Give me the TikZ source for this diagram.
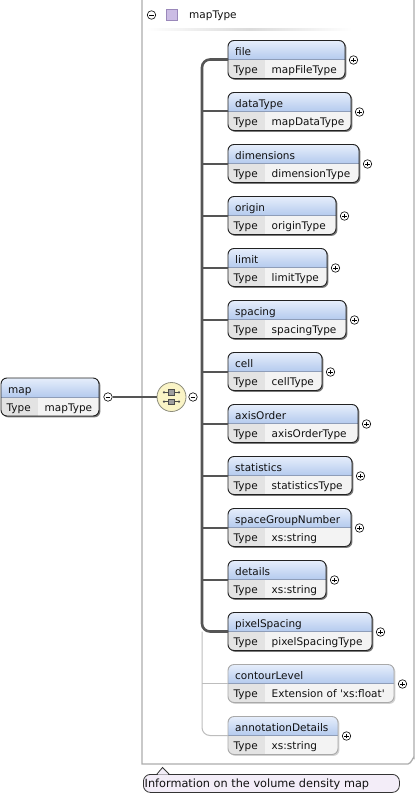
\documentclass[tikz,border=0pt]{standalone}
\usepackage{fontspec}
\setmainfont{DejaVu Sans}
\definecolor{hdtop}{HTML}{E6EEFB}
\definecolor{hdbot}{HTML}{B4CAEE}
\definecolor{hdline}{HTML}{8E9DB8}
\definecolor{typecell}{HTML}{E3E3E3}
\definecolor{valcell}{HTML}{F3F3F3}
\definecolor{busc}{HTML}{555555}
\definecolor{optline}{HTML}{BDBDBD}
\definecolor{framec}{HTML}{ADADAD}
\definecolor{seqfill}{HTML}{FAF4C6}
\definecolor{seqborder}{HTML}{8C8C7C}
\definecolor{callfill}{HTML}{F3EDF8}
\definecolor{purpfill}{HTML}{CBBCE4}
\definecolor{purpborder}{HTML}{9A88BA}
\definecolor{reqborder}{HTML}{222222}
\definecolor{reqshadow}{HTML}{7A7A7A}
\definecolor{optborder}{HTML}{A9A9A9}
\definecolor{optshadow}{HTML}{D2D2D2}
\definecolor{txt}{HTML}{111111}
\tikzset{
  lbl/.style={font=\fontsize{10.5}{12}\selectfont, text=txt, inner sep=0pt, anchor=base west},
  elemframe/.style={rectangle, rounded corners=6, line width=0.9pt, minimum height=38pt, inner sep=0pt, outer sep=0pt},
  pluscirc/.style={circle, draw=black, line width=0.6pt, fill=white, minimum size=8.5pt, inner sep=0pt,
    path picture={\draw[line width=0.7pt] ([xshift=-2.3pt]path picture bounding box.center) -- ([xshift=2.3pt]path picture bounding box.center);
                  \draw[line width=0.7pt] ([yshift=-2.3pt]path picture bounding box.center) -- ([yshift=2.3pt]path picture bounding box.center);}},
  minuscirc/.style={circle, draw=black, line width=0.6pt, fill=white, minimum size=8.5pt, inner sep=0pt,
    path picture={\draw[line width=0.7pt] ([xshift=-2.3pt]path picture bounding box.center) -- ([xshift=2.3pt]path picture bounding box.center);}},
  busline/.style={draw=busc, line width=2.6pt, rounded corners=8},
  branch/.style={draw=busc, line width=2pt},
  optbranch/.style={draw=optline, line width=1pt, rounded corners=8},
  callbox/.style={rectangle, rounded corners=7, draw=black!80, line width=0.8pt, fill=callfill, inner sep=0pt},
}
% #1 id, #2 xleft, #3 ytop, #4 xright, #5 divider x, #6 name, #7 type, #8 kind (req/opt)
\newcommand\elembox[8]{%
  \pgfmathsetmacro\yt{#3}%
  \pgfmathsetmacro\yd{#3+19}%
  \pgfmathsetmacro\yb{#3+38}%
  \fill[#8shadow, rounded corners=6] ({#2+1.4},{\yt+1.4}) rectangle ({#4+1.4},{\yb+1.4});
  \begin{scope}
    \clip[rounded corners=6] (#2,\yt) rectangle (#4,\yb);
    \fill[top color=hdtop, bottom color=hdbot] (#2,\yt) rectangle (#4,\yd);
    \fill[typecell] (#2,\yd) rectangle (#5,\yb);
    \fill[valcell] (#5,\yd) rectangle (#4,\yb);
    \draw[hdline, line width=0.6pt] (#2,\yd) -- (#4,\yd);
  \end{scope}
  \node[elemframe, draw=#8border, minimum width={#4-#2}, anchor=north west] (#1) at (#2,\yt) {};
  \node[lbl] (#1-name) at ({#2+7},{\yt+15}) {#6};
  \node[lbl] (#1-tl) at ({#2+5.5},{\yt+33}) {Type};
  \node[lbl] (#1-tv) at ({#5+6.5},{\yt+33}) {#7};
}
\newcommand\childbox[6]{% #1 id, #2 ytop, #3 xright, #4 name, #5 type, #6 kind
  \elembox{#1}{228}{#2}{#3}{265}{#4}{#5}{#6}%
  \node[pluscirc] (#1-p) at ({#3+8.5},{#2+19.5}) {};
}
\begin{document}
\begin{tikzpicture}[x=1pt,y=-1pt]
\useasboundingbox (0,0) rectangle (418,797);
\fill[white] (0,0) rectangle (418,797);

% container frame of mapType
\draw[framec, line width=1.3pt] (142,-5) -- (142,764) -- (408,764) to[out=0,in=90] (414,758) -- (414,-5);
\node[minuscirc] (tm) at (151.5,15) {};
\node[rectangle, draw=purpborder, fill=purpfill, minimum size=11pt, inner sep=0pt, line width=0.6pt] (ts) at (171.5,15) {};
\node[lbl] (tt) at (189,19) {mapType};
\fill[left color=white, right color=white, middle color=black!14] (146,28.6) rectangle (352,30.4);

% map element
\elembox{map}{1}{378}{99}{38}{map}{mapType}{req}
\node[minuscirc] (mapm) at (108,397) {};

% sequence compositor
\node[circle, draw=seqborder, fill=seqfill, line width=0.8pt, minimum size=29pt, inner sep=0pt] (seq) at (171.5,397) {};
\foreach \dy in {-4.6,4.6}{
  \draw[black!70, line width=0.7pt] (164,397+\dy) -- (179,397+\dy);
  \fill[black!70] (164,397+\dy) circle (1.2);
  \fill[black!70] (179,397+\dy) circle (1.2);
  \filldraw[fill=black!38, draw=black!70, line width=0.6pt] (168.5,397+\dy-2.8) rectangle (174.5,397+\dy+2.8);
}
\node[minuscirc] (seqm) at (193,397) {};
\draw[busc, line width=1.6pt] (mapm.east) -- (seq.west);

% children
\childbox{file}{40.5}{345}{file}{mapFileType}{req}
\childbox{dataType}{92.5}{351}{dataType}{mapDataType}{req}
\childbox{dimensions}{144.5}{359}{dimensions}{dimensionType}{req}
\childbox{origin}{196.5}{336}{origin}{originType}{req}
\childbox{limit}{248.5}{327}{limit}{limitType}{req}
\childbox{spacing}{300.5}{346}{spacing}{spacingType}{req}
\childbox{cell}{352.5}{322}{cell}{cellType}{req}
\childbox{axisOrder}{404.5}{358}{axisOrder}{axisOrderType}{req}
\childbox{statistics}{456.5}{352}{statistics}{statisticsType}{req}
\childbox{spaceGroupNumber}{508.5}{351}{spaceGroupNumber}{xs:string}{req}
\childbox{details}{560.5}{326}{details}{xs:string}{req}
\childbox{pixelSpacing}{612.5}{372}{pixelSpacing}{pixelSpacingType}{req}
\childbox{contourLevel}{664.5}{394}{contourLevel}{Extension of \textquotesingle xs:float\textquotesingle}{opt}
\childbox{annotationDetails}{716.5}{338}{annotationDetails}{xs:string}{opt}

% bus
\coordinate (busx) at (202,397);
\draw[optbranch] (busx |- pixelSpacing.west) |- (annotationDetails.west);
\draw[optline, line width=1pt] (busx |- contourLevel.west) -- (contourLevel.west);
\draw[busline] (file.west) -| (busx) |- (pixelSpacing.west);
\foreach \n in {dataType,dimensions,origin,limit,spacing,cell,axisOrder,statistics,spaceGroupNumber,details}{
  \draw[branch] (busx |- \n.west) -- (\n.west);
}

% annotation callout
\node[callbox, minimum width=256pt, minimum height=18pt, anchor=north west] (note) at (143,774) {};
\fill[callfill] (157.6,774.7) -- (162.5,768.2) -- (168.4,774.7) -- cycle;
\draw[black!80, line width=0.8pt] (157,774) -- (162.5,767.5) -- (169,774);
\node[font=\fontsize{11.3}{13}\selectfont, text=txt, inner sep=0pt, anchor=base west] (notetext) at (144.5,787.5) {Information on the volume density map};
\end{tikzpicture}
\end{document}
